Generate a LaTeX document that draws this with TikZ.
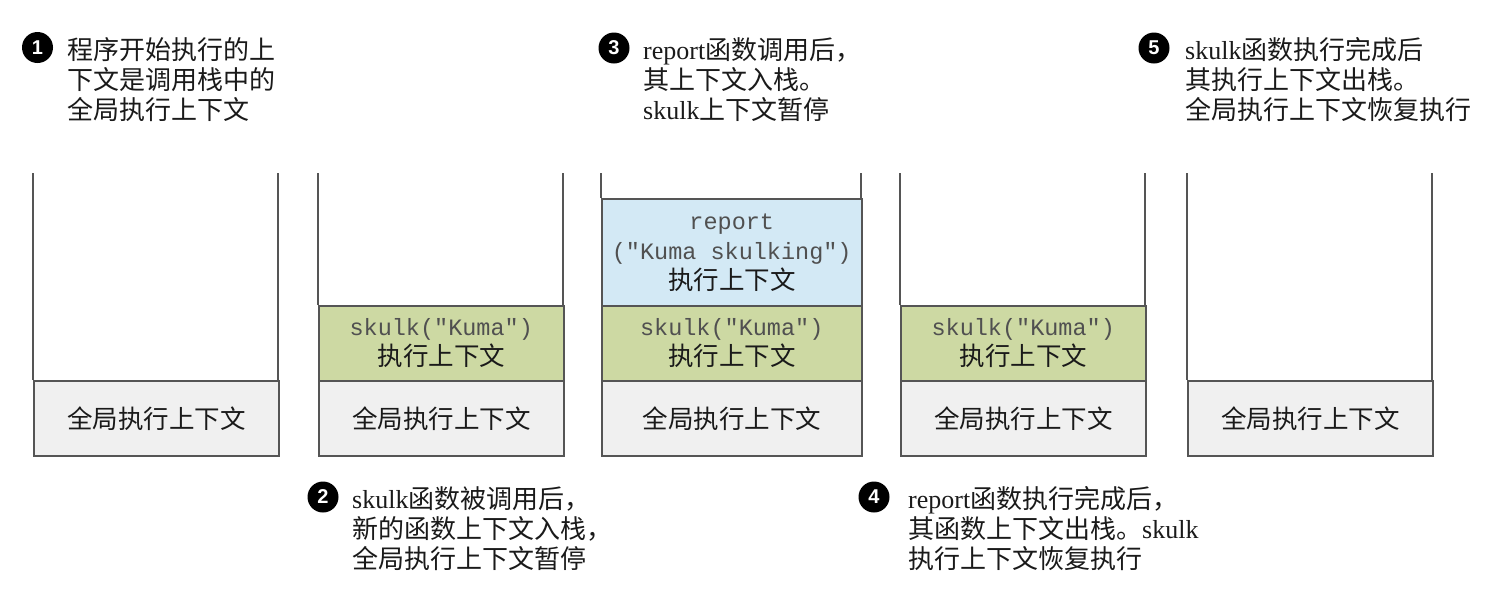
\documentclass[tikz,border=0pt]{standalone}
\usepackage{fontspec}
\setmainfont{Liberation Serif}
\setmonofont{Liberation Mono}
\newfontfamily\cjk{Noto Sans CJK SC}
\newfontfamily\numfont{Liberation Sans}
\definecolor{edgec}{HTML}{555555}
\definecolor{gfill}{HTML}{F0F0F0}
\definecolor{greenfill}{HTML}{CDD9A3}
\definecolor{bluefill}{HTML}{D3E9F5}
\definecolor{monoc}{HTML}{505050}
\definecolor{txtc}{HTML}{1A1A1A}
\tikzset{
  wall/.style={draw=edgec, line width=1.5pt},
  layer/.style={draw=edgec, line width=1.5pt, anchor=north west, inner sep=0pt,
    align=center, text=txtc, font=\fontsize{25.5}{30}\selectfont\cjk},
  numc/.style={circle, fill=black, text=white, minimum size=31pt, inner sep=0pt,
    font=\numfont\bfseries\fontsize{20}{20}\selectfont},
  captxt/.style={anchor=north west, inner sep=0pt, align=left, text=txtc,
    font=\fontsize{26}{30}\selectfont\cjk}
}
\newcommand{\mt}[1]{{\ttfamily\color{monoc}\fontsize{23.5}{30}\selectfont #1}}
\newcommand{\lt}[1]{{\rmfamily #1}}
\begin{document}
\begin{tikzpicture}[x=1pt,y=-1pt]
\useasboundingbox (0,0) rectangle (1490,590);
% stack 1
\draw[wall] (33,173) -- (33,380) (278,173) -- (278,380);
\node[layer, fill=gfill, minimum width=245pt, minimum height=75pt] (g1) at (33,380) {全局执行上下文};
% stack 2
\draw[wall] (318,173) -- (318,305) (563,173) -- (563,305);
\node[layer, fill=gfill, minimum width=245pt, minimum height=75pt] (g2) at (318,380) {全局执行上下文};
\node[layer, fill=greenfill, minimum width=245pt, minimum height=75pt] (s2) at (318,305) {\mt{skulk("Kuma")}\\执行上下文};
% stack 3
\draw[wall] (601,173) -- (601,198) (861,173) -- (861,198);
\node[layer, fill=gfill, minimum width=260pt, minimum height=75pt] (g3) at (601,380) {全局执行上下文};
\node[layer, fill=greenfill, minimum width=260pt, minimum height=75pt] (s3) at (601,305) {\mt{skulk("Kuma")}\\执行上下文};
\node[layer, fill=bluefill, minimum width=260pt, minimum height=107pt] (r3) at (601,198) {\mt{report}\\\mt{("Kuma skulking")}\\执行上下文};
% stack 4
\draw[wall] (900,173) -- (900,305) (1145,173) -- (1145,305);
\node[layer, fill=gfill, minimum width=245pt, minimum height=75pt] (g4) at (900,380) {全局执行上下文};
\node[layer, fill=greenfill, minimum width=245pt, minimum height=75pt] (s4) at (900,305) {\mt{skulk("Kuma")}\\执行上下文};
% stack 5
\draw[wall] (1187,173) -- (1187,380) (1432,173) -- (1432,380);
\node[layer, fill=gfill, minimum width=245pt, minimum height=75pt] (g5) at (1187,380) {全局执行上下文};
% captions
\node[numc] (n1) at (37.5,47.5) {1};
\node[captxt] (c1) at (67,37) {程序开始执行的上\\下文是调用栈中的\\全局执行上下文};
\node[numc] (n2) at (323,497) {2};
\node[captxt] (c2) at (352,486) {\lt{skulk}函数被调用后，\\新的函数上下文入栈，\\全局执行上下文暂停};
\node[numc] (n3) at (614,48) {3};
\node[captxt] (c3) at (643,37) {\lt{report}函数调用后，\\其上下文入栈。\\\lt{skulk}上下文暂停};
\node[numc] (n4) at (874,497) {4};
\node[captxt] (c4) at (908,486) {\lt{report}函数执行完成后，\\其函数上下文出栈。\lt{skulk}\\执行上下文恢复执行};
\node[numc] (n5) at (1154,48) {5};
\node[captxt] (c5) at (1185,37) {\lt{skulk}函数执行完成后\\其执行上下文出栈。\\全局执行上下文恢复执行};
\end{tikzpicture}
\end{document}
